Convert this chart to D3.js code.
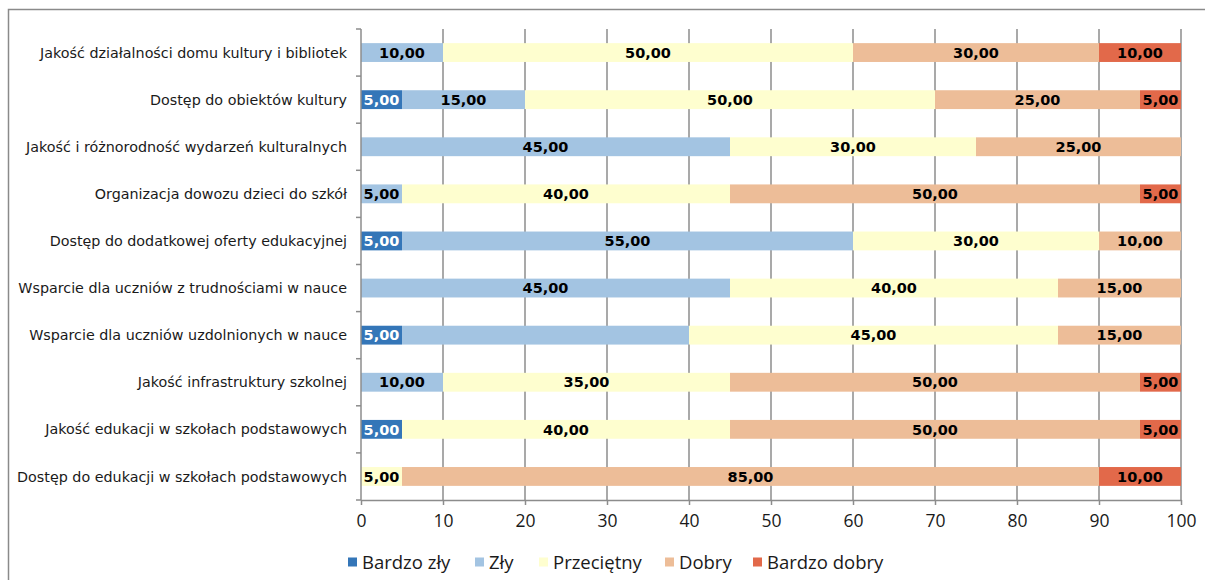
<!DOCTYPE html>
<html>
<head>
<meta charset="utf-8">
<script src="https://cdn.jsdelivr.net/npm/d3@7"></script>
<style>
  body { margin: 0; background: #fff; }
  svg { display: block; }
</style>
</head>
<body>
<div class="graph"></div>
<script>
// categories, top to bottom
let categories = [
    'Jakość działalności domu kultury i bibliotek',
    'Dostęp do obiektów kultury',
    'Jakość i różnorodność wydarzeń kulturalnych',
    'Organizacja dowozu dzieci do szkół',
    'Dostęp do dodatkowej oferty edukacyjnej',
    'Wsparcie dla uczniów z trudnościami w nauce',
    'Wsparcie dla uczniów uzdolnionych w nauce',
    'Jakość infrastruktury szkolnej',
    'Jakość edukacji w szkołach podstawowych',
    'Dostęp do edukacji w szkołach podstawowych'
]

let seriesNames = ['Bardzo zły', 'Zły', 'Przeciętny', 'Dobry', 'Bardzo dobry']

let bardzoZly   = [0, 5, 0, 0, 5, 0, 5, 0, 5, 0]
let zly         = [10, 15, 45, 5, 55, 45, 35, 10, 0, 0]
let przecietny  = [50, 50, 30, 40, 30, 40, 45, 35, 40, 5]
let dobry       = [30, 25, 25, 50, 10, 15, 15, 50, 50, 85]
let bardzoDobry = [10, 5, 0, 5, 0, 0, 0, 5, 5, 10]

let xTicks = [0, 10, 20, 30, 40, 50, 60, 70, 80, 90, 100]

// labels that the original chart does not show (category index, series index)
let hiddenLabels = [[6, 1]]

let colors = ['#3476b8', '#a3c4e2', '#fefecf', '#edbd98', '#e2694a']
let labelColors = ['#ffffff', '#000000', '#000000', '#000000', '#000000']

let width = 1205,
    height = 580

let margin = { left: 361, right: 24, top: 29, bottom: 80 }

let rows = categories.map(function(c, i) {
    return {
        name: c,
        values: [bardzoZly[i], zly[i], przecietny[i], dobry[i], bardzoDobry[i]]
    }
})

let x = d3.scaleLinear().domain([0, 100]).range([margin.left, width - margin.right])
let y = d3.scaleBand().domain(categories).range([margin.top, height - margin.bottom])
    .paddingInner(0.6).paddingOuter(0.3)
let step = y.step()

let svg = d3.select('.graph').append('svg')
    .attr('width', width)
    .attr('height', height)

// outer frame
svg.append('rect')
    .attr('x', 8.5).attr('y', 9.5)
    .attr('width', width + 10).attr('height', height + 10)
    .attr('fill', 'none')
    .attr('stroke', '#8a8a8a')
    .attr('stroke-width', 1.5)

// vertical gridlines
svg.append('g').selectAll('line')
    .data(xTicks.slice(1))
    .join('line')
    .attr('x1', d => x(d)).attr('x2', d => x(d))
    .attr('y1', margin.top).attr('y2', height - margin.bottom)
    .attr('stroke', '#8c8c8c')
    .attr('stroke-width', 1.5)

// stacked bars
let stackData = rows.map(function(r) {
    let acc = 0
    return r.values.map(function(v, s) {
        let seg = { cat: r.name, s: s, v: v, x0: acc, x1: acc + v }
        acc += v
        return seg
    })
})

let segs = stackData.flat().filter(d => d.v > 0)

svg.append('g').selectAll('rect')
    .data(segs)
    .join('rect')
    .attr('x', d => x(d.x0))
    .attr('y', d => y(d.cat))
    .attr('width', d => x(d.x1) - x(d.x0))
    .attr('height', y.bandwidth())
    .attr('fill', d => colors[d.s])

svg.append('g').selectAll('text')
    .data(segs.filter(function(d) {
        let ci = categories.indexOf(d.cat)
        return !hiddenLabels.some(h => h[0] == ci && h[1] == d.s)
    }))
    .join('text')
    .attr('x', d => x((d.x0 + d.x1) / 2))
    .attr('y', d => y(d.cat) + y.bandwidth() / 2)
    .attr('dy', '0.36em')
    .attr('text-anchor', 'middle')
    .attr('font-family', 'DejaVu Sans, Verdana, sans-serif')
    .attr('font-weight', 'bold')
    .attr('font-size', '14.5px')
    .attr('fill', d => labelColors[d.s])
    .text(d => d3.format('.2f')(d.v).replace('.', ','))

// left axis line + ticks at band boundaries
let axisColor = '#8c8c8c'
let left = svg.append('g')
left.append('line')
    .attr('x1', x(0)).attr('x2', x(0))
    .attr('y1', margin.top).attr('y2', height - margin.bottom)
    .attr('stroke', axisColor).attr('stroke-width', 1.5)
let bounds = categories.map(c => y(c) - step * 0.3).concat([height - margin.bottom])
left.selectAll('.tk')
    .data(bounds)
    .join('line')
    .attr('class', 'tk')
    .attr('x1', x(0) - 5).attr('x2', x(0))
    .attr('y1', d => d).attr('y2', d => d)
    .attr('stroke', axisColor).attr('stroke-width', 1.5)

left.selectAll('text')
    .data(categories)
    .join('text')
    .attr('x', x(0) - 14)
    .attr('y', d => y(d) + y.bandwidth() / 2)
    .attr('dy', '0.36em')
    .attr('text-anchor', 'end')
    .attr('font-family', 'DejaVu Sans, Verdana, sans-serif')
    .attr('font-size', '14.3px')
    .attr('fill', '#1a1a1a')
    .text(d => d)

// bottom axis
let xAxis = svg.append('g')
    .attr('transform', 'translate(0,' + (height - margin.bottom) + ')')
    .call(d3.axisBottom(x).tickValues(xTicks).tickSize(5).tickSizeOuter(0).tickPadding(10))
xAxis.select('.domain').attr('stroke', axisColor).attr('stroke-width', 1.5)
xAxis.selectAll('.tick line').attr('stroke', axisColor).attr('stroke-width', 1.5)
xAxis.selectAll('.tick text')
    .attr('font-family', 'Open Sans, Segoe UI, sans-serif')
    .attr('font-size', '17.5px')
    .attr('fill', '#1a1a1a')

// legend
let legendX = [348, 475, 539, 665, 753]
let legend = svg.append('g')
    .selectAll('g')
    .data(seriesNames)
    .join('g')
    .attr('transform', (d, i) => 'translate(' + legendX[i] + ',562)')
legend.append('rect')
    .attr('x', 0).attr('y', -4.5)
    .attr('width', 9).attr('height', 9)
    .attr('fill', (d, i) => colors[i])
legend.append('text')
    .attr('x', 14).attr('dy', '0.36em')
    .attr('font-family', 'Open Sans, Segoe UI, sans-serif')
    .attr('font-size', '18.5px')
    .attr('fill', '#1a1a1a')
    .text(d => d)
</script>
</body>
</html>
